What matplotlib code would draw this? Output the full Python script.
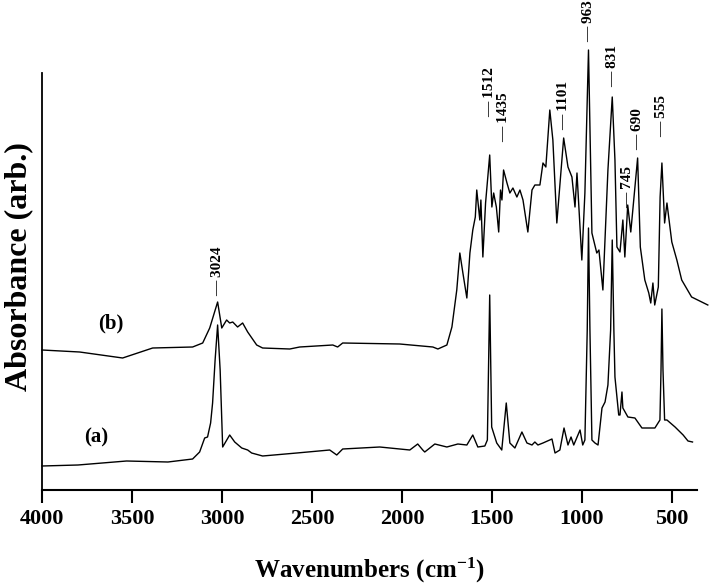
import numpy as np
import matplotlib.pyplot as plt

plt.rcParams["mathtext.fontset"] = "custom"
plt.rcParams["mathtext.rm"] = "Liberation Serif:bold"
plt.rcParams["mathtext.bf"] = "Liberation Serif:bold"
plt.rcParams["mathtext.default"] = "bf"

# wavenumbers (cm-1) and absorbance (arb.)
wn_a = [4000, 3800, 3530, 3300, 3163, 3124, 3096, 3080, 3063, 3052, 3038, 3024, 3010, 2996,
        2957, 2929, 2890, 2857, 2835, 2774, 2584, 2401, 2362, 2329, 2123, 1956, 1912, 1884,
        1873, 1817, 1750, 1689, 1639, 1606, 1578, 1539, 1525, 1512, 1501, 1473, 1445, 1420,
        1400, 1372, 1333, 1305, 1277, 1261, 1244, 1216, 1166, 1149, 1122, 1099, 1077, 1060,
        1045, 1010, 995, 983, 970, 963, 955, 944, 927, 910, 888, 871, 855, 840, 831, 822,
        816, 795, 788, 777, 772, 744, 705, 666, 594, 566, 560, 555, 549, 540, 527, 482, 437,
        410, 385]
abs_a = [0.24, 0.25, 0.29, 0.28, 0.31, 0.38, 0.52, 0.53, 0.67, 0.87, 1.30, 1.65, 1.20, 0.43,
         0.55, 0.48, 0.42, 0.40, 0.37, 0.34, 0.37, 0.40, 0.35, 0.41, 0.43, 0.40, 0.46, 0.40,
         0.38, 0.46, 0.43, 0.46, 0.45, 0.55, 0.43, 0.44, 0.50, 1.95, 0.63, 0.47, 0.40, 0.87,
         0.47, 0.42, 0.58, 0.47, 0.45, 0.48, 0.45, 0.47, 0.51, 0.37, 0.40, 0.62, 0.45, 0.53,
         0.45, 0.60, 0.45, 0.50, 1.60, 2.62, 1.60, 0.50, 0.47, 0.45, 0.82, 0.88, 1.05, 1.60,
         2.50, 1.60, 1.13, 0.75, 0.75, 0.98, 0.82, 0.73, 0.72, 0.62, 0.62, 0.70, 1.20, 1.81,
         1.20, 0.70, 0.70, 0.63, 0.55, 0.49, 0.48]

wn_b = [4000, 3791, 3552, 3385, 3163, 3107, 3068, 3024, 3001, 2974, 2957, 2940, 2913, 2885,
        2857, 2807, 2774, 2623, 2568, 2384, 2357, 2329, 2012, 1828, 1800, 1750, 1722, 1695,
        1678, 1661, 1639, 1622, 1606, 1592, 1584, 1567, 1561, 1550, 1535, 1512, 1500, 1490,
        1475, 1462, 1452, 1444, 1435, 1416, 1400, 1383, 1361, 1344, 1327, 1300, 1277, 1261,
        1233, 1216, 1200, 1178, 1161, 1139, 1101, 1077, 1055, 1038, 1027, 1000, 983, 963, 944,
        917, 905, 883, 855, 831, 816, 805, 788, 772, 761, 745, 728, 690, 675, 650, 628, 617,
        605, 595, 575, 565, 555, 540, 527, 500, 472, 445, 390, 300]
abs_b = [1.40, 1.38, 1.32, 1.42, 1.43, 1.47, 1.62, 1.88, 1.62, 1.70, 1.67, 1.68, 1.63, 1.67,
         1.58, 1.45, 1.42, 1.41, 1.43, 1.45, 1.43, 1.47, 1.46, 1.43, 1.41, 1.45, 1.63, 2.00,
         2.37, 2.17, 1.92, 2.37, 2.60, 2.73, 3.00, 2.70, 2.90, 2.33, 2.87, 3.35, 2.83, 2.97,
         2.83, 2.58, 3.00, 2.90, 3.20, 3.07, 2.97, 3.02, 2.93, 3.00, 2.90, 2.58, 3.00, 3.05,
         3.05, 3.27, 3.23, 3.80, 3.50, 2.67, 3.52, 3.23, 3.13, 2.83, 3.17, 2.30, 2.97, 4.40,
         2.57, 2.37, 2.40, 2.00, 3.20, 3.93, 3.30, 2.43, 2.38, 2.70, 2.33, 2.85, 2.58, 3.32,
         2.43, 2.10, 1.97, 1.87, 2.07, 1.85, 2.03, 2.93, 3.27, 2.67, 2.87, 2.48, 2.30, 2.10,
         1.93, 1.85]

peak_labels = ["3024", "1512", "1435", "1101", "963", "831", "745", "690", "555"]
peak_wn = [3024, 1512, 1435, 1101, 963, 831, 745, 690, 555]
label_height = [1.94, 3.73, 3.48, 3.60, 4.48, 4.03, 2.82, 3.40, 3.53]

bold = dict(family="Liberation Serif", weight="bold")

fig = plt.figure(figsize=(7.12, 5.84), dpi=100)
ax = fig.add_axes([42 / 712, 1 - 490 / 584, 655 / 712, 417 / 584])

ax.plot(wn_a, abs_a, color="black", linewidth=1.0, clip_on=False)
ax.plot(wn_b, abs_b, color="black", linewidth=1.0, clip_on=False)

for lab, w, h in zip(peak_labels, peak_wn, label_height):
    ax.text(w, h, "\u2014 " + lab, rotation=90, ha="center", va="bottom",
            fontsize=11, clip_on=False, **bold)

ax.text(3620, 1.67, "(b)", ha="center", va="center", fontsize=15, **bold)
ax.text(3700, 0.53, "(a)", ha="center", va="center", fontsize=15, **bold)

ax.set_xlim(4000, 360)
ax.set_ylim(0, 4.17)
ax.set_xticks([4000, 3500, 3000, 2500, 2000, 1500, 1000, 500])
ax.set_yticks([])
ax.tick_params(axis="x", direction="out", length=9, width=1.5, pad=5, labelsize=16)
for t in ax.get_xticklabels():
    t.set_fontfamily("Liberation Serif")
    t.set_fontweight("bold")

for side in ["top", "right"]:
    ax.spines[side].set_visible(False)
ax.spines["left"].set_linewidth(1.3)
ax.spines["bottom"].set_linewidth(1.5)

ax.set_xlabel("Wavenumbers (cm$^{-1}$)", fontsize=18, labelpad=19, **bold)
ax.set_ylabel("Absorbance (arb.)", fontsize=23, **bold)
ax.yaxis.set_label_coords(-0.013, 0.535)

fig.savefig("out.png", dpi=100)
